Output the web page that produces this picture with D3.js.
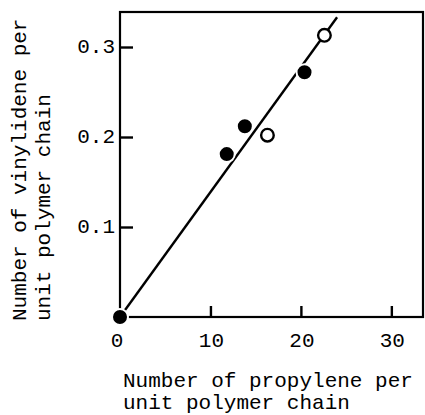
<!DOCTYPE html>
<html>
<head>
<meta charset="utf-8">
<script src="https://cdn.jsdelivr.net/npm/d3@7"></script>
<style>
  body { margin: 0; background: #fff; }
  text { font-family: "Liberation Mono", "DejaVu Sans Mono", monospace; fill: #000; }
</style>
</head>
<body>
<div id="chart"></div>
<script>
// data
const filledX = [0, 11.8, 13.8, 20.4]
const filledY = [0, 0.181, 0.212, 0.272]
const openX = [16.3, 22.6]
const openY = [0.202, 0.313]
const lineX = [0, 24]
const lineY = [0, 0.333]
const xTicks = [0, 10, 20, 30]
const yTicks = [0.1, 0.2, 0.3]
const xTitle = ["Number of propylene per", "unit polymer chain"]
const yTitle = ["Number of vinylidene per", "unit polymer chain"]

const W = 425, H = 415
const plotL = 120, plotR = 423, plotT = 12, plotB = 317

const svg = d3.select("#chart").append("svg")
  .attr("width", W).attr("height", H)

const x = d3.scaleLinear().domain([0, 33.5]).range([plotL, plotR])
const y = d3.scaleLinear().domain([0, 0.3389]).range([plotB, plotT])

// frame
svg.append("rect")
  .attr("x", plotL).attr("y", plotT)
  .attr("width", plotR - plotL).attr("height", plotB - plotT)
  .attr("fill", "none").attr("stroke", "#000").attr("stroke-width", 2.2)

// inward ticks
const xAxis = d3.axisTop(x).tickValues(xTicks.filter(d => d > 0)).tickSize(11).tickFormat("")
svg.append("g").attr("transform", `translate(0,${plotB})`).call(xAxis)
  .call(g => g.select(".domain").remove())
  .selectAll("line").attr("stroke-width", 2.4)

const yAxis = d3.axisRight(y).tickValues(yTicks).tickSize(13).tickFormat("")
svg.append("g").attr("transform", `translate(${plotL},0)`).call(yAxis)
  .call(g => g.select(".domain").remove())
  .selectAll("line").attr("stroke-width", 2.4)

// tick labels
svg.append("g").selectAll("text").data(xTicks).enter().append("text")
  .attr("x", d => x(d) + (d === 0 ? -3 : 1))
  .attr("y", 347)
  .attr("text-anchor", "middle")
  .attr("font-size", 21)
  .text(d => d)

svg.append("g").selectAll("text").data(yTicks).enter().append("text")
  .attr("x", plotL - 5)
  .attr("y", d => y(d) + 6)
  .attr("text-anchor", "end")
  .attr("font-size", 21)
  .text(d => d3.format(".1f")(d))

// fitted line
const lineData = lineX.map((d, i) => [d, lineY[i]])
svg.append("path")
  .datum(lineData)
  .attr("d", d3.line().x(d => x(d[0])).y(d => y(d[1])))
  .attr("fill", "none").attr("stroke", "#000").attr("stroke-width", 2.4)

// points
svg.append("g").selectAll("circle").data(filledX.map((d, i) => [d, filledY[i]])).enter()
  .append("circle")
  .attr("cx", d => x(d[0])).attr("cy", d => y(d[1]))
  .attr("r", 8)
  .attr("fill", "#000").attr("stroke", "#fff").attr("stroke-width", 2)

svg.append("g").selectAll("circle").data(openX.map((d, i) => [d, openY[i]])).enter()
  .append("circle")
  .attr("cx", d => x(d[0])).attr("cy", d => y(d[1]))
  .attr("r", 6.3)
  .attr("fill", "#fff").attr("stroke", "#000").attr("stroke-width", 2.4)

// axis titles
svg.append("text")
  .attr("font-size", 21)
  .selectAll("tspan").data(xTitle).enter().append("tspan")
  .attr("x", 123).attr("y", (d, i) => 387 + i * 22)
  .text(d => d)

svg.append("text")
  .attr("transform", "translate(26,321) rotate(-90)")
  .attr("font-size", 21)
  .selectAll("tspan").data(yTitle).enter().append("tspan")
  .attr("x", 0).attr("y", (d, i) => i * 24)
  .text(d => d)
</script>
</body>
</html>
